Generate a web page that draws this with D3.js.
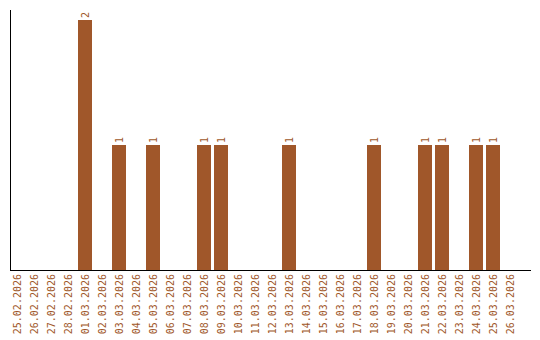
<!DOCTYPE html>
<html><head><meta charset="utf-8">
<script src="https://cdn.jsdelivr.net/npm/d3@7"></script>
<style>body{margin:0;background:#fff}svg{display:block}</style>
</head><body>
<script>
const categories = ["25.02.2026","26.02.2026","27.02.2026","28.02.2026","01.03.2026","02.03.2026","03.03.2026","04.03.2026","05.03.2026","06.03.2026","07.03.2026","08.03.2026","09.03.2026","10.03.2026","11.03.2026","12.03.2026","13.03.2026","14.03.2026","15.03.2026","16.03.2026","17.03.2026","18.03.2026","19.03.2026","20.03.2026","21.03.2026","22.03.2026","23.03.2026","24.03.2026","25.03.2026","26.03.2026"];
const values = [0,0,0,0,2,0,1,0,1,0,0,1,1,0,0,0,1,0,0,0,0,1,0,0,1,1,0,1,1,0];

const W = 540, H = 340;
const color = "#a0572a";
const svg = d3.select("body").append("svg").attr("width", W).attr("height", H);

const x = d3.scaleBand().domain(categories).range([8.5, 518.5]).paddingInner(3/17).paddingOuter(0.088);
const y = d3.scaleLinear().domain([0, 2]).range([270, 20]);

const data = categories.map((c, i) => ({c, v: values[i]}));

svg.selectAll("rect.bar").data(data.filter(d => d.v > 0)).enter().append("rect")
  .attr("class", "bar")
  .attr("x", d => Math.round(x(d.c)))
  .attr("y", d => y(d.v))
  .attr("width", Math.round(x.bandwidth()))
  .attr("height", d => y(0) - y(d.v))
  .attr("fill", "#a0572a");

svg.selectAll("text.val").data(data.filter(d => d.v > 0)).enter().append("text")
  .attr("class", "val")
  .attr("transform", d => `translate(${Math.round(x(d.c)) + x.bandwidth()/2 + 3.5},${y(d.v) - 2}) rotate(-90)`)
  .attr("font-family", "DejaVu Sans Mono")
  .attr("font-size", 10)
  .attr("fill", color)
  .text(d => d.v);

// axes
svg.append("line").attr("x1", 10.5).attr("x2", 10.5).attr("y1", 10).attr("y2", 270.5).attr("stroke", "#000").attr("stroke-width", 1);
svg.append("line").attr("x1", 10).attr("x2", 531).attr("y1", 270.5).attr("y2", 270.5).attr("stroke", "#000").attr("stroke-width", 1);

svg.selectAll("text.cat").data(categories).enter().append("text")
  .attr("class", "cat")
  .attr("transform", d => `translate(${Math.round(x(d)) + x.bandwidth()/2 + 3.5},274) rotate(-90)`)
  .attr("text-anchor", "end")
  .attr("font-family", "DejaVu Sans Mono")
  .attr("font-size", 10)
  .attr("fill", color)
  .text(d => d);
</script>
</body></html>
